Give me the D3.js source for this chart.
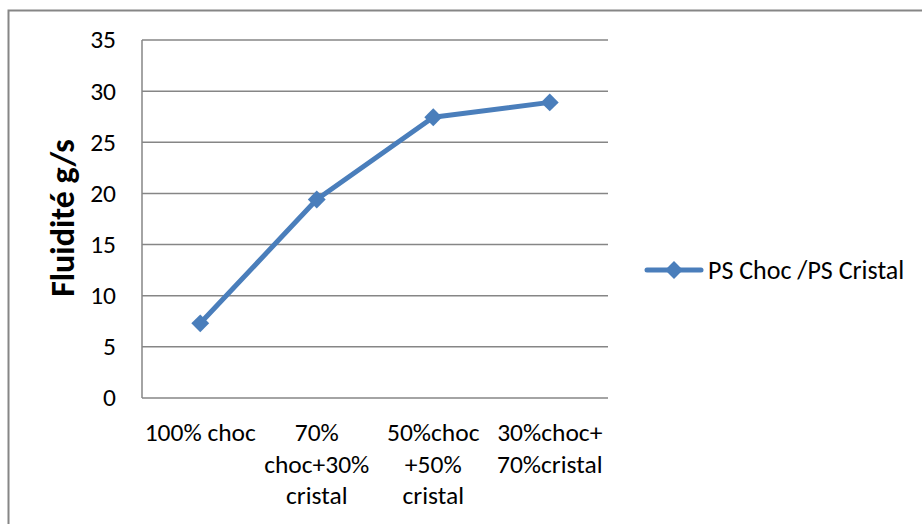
<!DOCTYPE html>
<html>
<head>
<meta charset="utf-8">
<script src="https://cdn.jsdelivr.net/npm/d3@7"></script>
<style>
  html, body { margin: 0; padding: 0; background: #fff; }
  svg { display: block; }
  text { font-family: Carlito, Lato, "Open Sans", sans-serif; fill: #000; }
</style>
</head>
<body>
<svg id="chart" width="922" height="524"></svg>
<script>
// Fluidity of PS blends
const categories = [
  ["100% choc"],
  ["70%", "choc+30%", "cristal"],
  ["50%choc", "+50%", "cristal"],
  ["30%choc+", "70%cristal"]
];
const values = [7.3, 19.4, 27.45, 28.9];
const yTicks = [0, 5, 10, 15, 20, 25, 30, 35];
const seriesName = "PS Choc /PS Cristal";
const yTitle = "Fluidité g/s";

const svg = d3.select("#chart");
const color = "#4A7EBB";
const gridColor = "#868686";
const fs = 25.5;

// chart-area frame
svg.append("rect")
  .attr("x", 8.5).attr("y", 10.5)
  .attr("width", 940).attr("height", 540)
  .attr("fill", "none").attr("stroke", gridColor).attr("stroke-width", 2);

const plot = { left: 142, right: 608, top: 40, bottom: 398 };

const x = d3.scaleBand()
  .domain(d3.range(categories.length))
  .range([plot.left, plot.right]);

const y = d3.scaleLinear()
  .domain([0, 35])
  .range([plot.bottom, plot.top]);

// horizontal gridlines
svg.append("g")
  .selectAll("line")
  .data(yTicks)
  .join("line")
  .attr("x1", plot.left).attr("x2", plot.right)
  .attr("y1", d => y(d)).attr("y2", d => y(d))
  .attr("stroke", gridColor).attr("stroke-width", 1.5);

// y axis line
svg.append("line")
  .attr("x1", plot.left).attr("x2", plot.left)
  .attr("y1", plot.top).attr("y2", plot.bottom)
  .attr("stroke", gridColor).attr("stroke-width", 1.5);

// y tick labels
svg.append("g")
  .selectAll("text")
  .data(yTicks)
  .join("text")
  .attr("x", 116).attr("y", d => y(d))
  .attr("dy", "0.33em")
  .attr("text-anchor", "end")
  .attr("font-size", fs)
  .text(d => d);

// y title
svg.append("text")
  .attr("transform", `translate(74, 218) rotate(-90)`)
  .attr("text-anchor", "middle")
  .attr("font-size", 34)
  .attr("font-weight", "bold")
  .text(yTitle);

// category labels
const catG = svg.append("g")
  .selectAll("text")
  .data(categories)
  .join("text")
  .attr("text-anchor", "middle")
  .attr("font-size", fs)
  .attr("transform", (d, i) => `translate(${x(i) + x.bandwidth() / 2}, 441)`);
catG.selectAll("tspan")
  .data(d => d)
  .join("tspan")
  .attr("x", 0)
  .attr("y", (d, i) => i * 31.5)
  .text(d => d);

// series line
const line = d3.line()
  .x((d, i) => x(i) + x.bandwidth() / 2)
  .y(d => y(d));

svg.append("path")
  .datum(values)
  .attr("d", line)
  .attr("fill", "none")
  .attr("stroke", color)
  .attr("stroke-width", 5)
  .attr("stroke-linejoin", "round");

// diamond markers
const diamond = d3.symbol().type(d3.symbolSquare).size(160);
svg.append("g")
  .selectAll("path")
  .data(values)
  .join("path")
  .attr("d", diamond)
  .attr("fill", color)
  .attr("transform", (d, i) => `translate(${x(i) + x.bandwidth() / 2}, ${y(d)}) rotate(45)`);

// legend
const lg = svg.append("g").attr("transform", "translate(647, 270)");
lg.append("line")
  .attr("x1", 0).attr("x2", 54)
  .attr("stroke", color).attr("stroke-width", 5)
  .attr("stroke-linecap", "round");
lg.append("path")
  .attr("d", diamond)
  .attr("fill", color)
  .attr("transform", "translate(27, 0) rotate(45)");
lg.append("text")
  .attr("x", 61).attr("dy", "0.33em")
  .attr("font-size", 26)
  .text(seriesName);
</script>
</body>
</html>
